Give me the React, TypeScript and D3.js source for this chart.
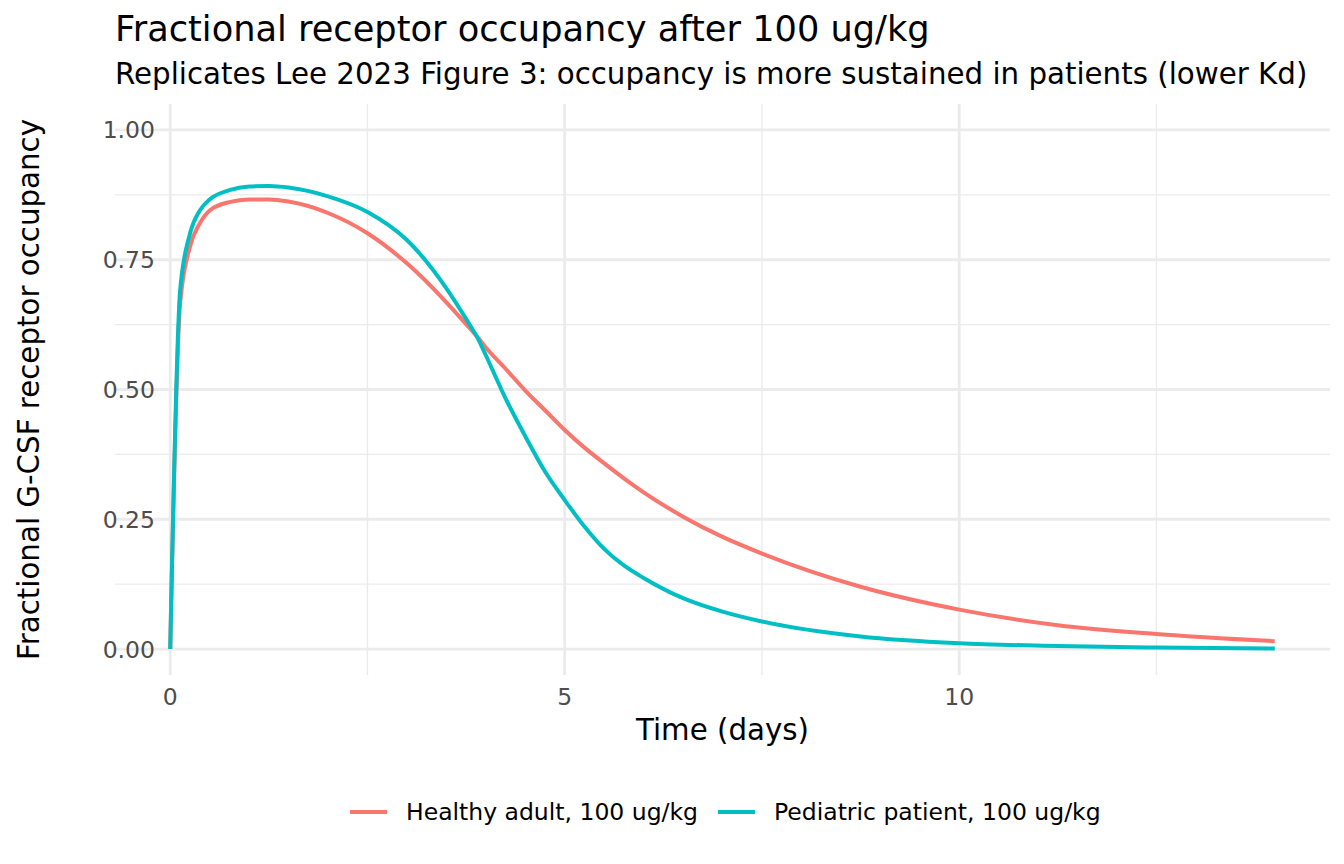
import * as d3 from "d3"

// time points (days) and occupancy
const times = [0, 0.125, 0.25, 0.375, 0.5, 0.75, 1, 1.25, 1.5, 2, 2.5, 3, 3.5, 3.75, 3.9, 4, 4.25, 4.5, 4.75, 5, 5.25, 5.5, 5.75, 6, 6.5, 7, 7.5, 8.75, 10, 11.25, 12.5, 14]
const healthy = [0, 0.665, 0.775, 0.82, 0.845, 0.861, 0.866, 0.866, 0.862, 0.84, 0.801, 0.743, 0.668, 0.626, 0.6, 0.581, 0.54, 0.498, 0.46, 0.422, 0.388, 0.358, 0.329, 0.302, 0.255, 0.216, 0.184, 0.12, 0.076, 0.046, 0.029, 0.015]
const pediatric = [0, 0.69, 0.8, 0.845, 0.866, 0.884, 0.891, 0.892, 0.889, 0.872, 0.842, 0.788, 0.695, 0.636, 0.598, 0.566, 0.483, 0.41, 0.342, 0.287, 0.236, 0.193, 0.161, 0.137, 0.098, 0.072, 0.053, 0.024, 0.011, 0.006, 0.003, 0.001]

const seriesNames = ["Healthy adult, 100 ug/kg", "Pediatric patient, 100 ug/kg"]
const seriesColors = ["#F8766D", "#00BFC4"]

const xMajor = [0, 5, 10]
const xMinor = [2.5, 7.5, 12.5]
const yMajor = [0, 0.25, 0.5, 0.75, 1]
const yMinor = [0.125, 0.375, 0.625, 0.875]

const W = 1344
const H = 864
const font = "DejaVu Sans"

const App = () => {
  const x = d3.scaleLinear().domain([-0.7, 14.7]).range([115, 1330])
  const y = d3.scaleLinear().domain([-0.05, 1.05]).range([675, 104])

  const line = d3
    .line<[number, number]>()
    .x((d) => x(d[0]))
    .y((d) => y(d[1]))
    .curve(d3.curveMonotoneX)

  const series = [healthy, pediatric].map((vals) => times.map((t, i) => [t, vals[i]] as [number, number]))

  const [x0, x1] = x.range()
  const [y0, y1] = y.range()

  return (
    <div style={{ position: "fixed", top: 0, left: 0 }}>
      <svg width={W} height={H} style={{ display: "block", background: "#fff" }} fontFamily={font}>
        {/* grid */}
        <g>
          {yMinor.map((v) => (
            <line key={"ym" + v} x1={x0} x2={x1} y1={y(v)} y2={y(v)} stroke="#EBEBEB" strokeWidth={1.4} />
          ))}
          {xMinor.map((v) => (
            <line key={"xm" + v} x1={x(v)} x2={x(v)} y1={y0} y2={y1} stroke="#EBEBEB" strokeWidth={1.4} />
          ))}
          {yMajor.map((v) => (
            <line key={"yM" + v} x1={x0} x2={x1} y1={y(v)} y2={y(v)} stroke="#EBEBEB" strokeWidth={2.8} />
          ))}
          {xMajor.map((v) => (
            <line key={"xM" + v} x1={x(v)} x2={x(v)} y1={y0} y2={y1} stroke="#EBEBEB" strokeWidth={2.8} />
          ))}
        </g>

        {/* lines */}
        {series.map((s, i) => (
          <path key={i} d={line(s) ?? ""} fill="none" stroke={seriesColors[i]} strokeWidth={4} strokeLinejoin="round" />
        ))}

        {/* axis text */}
        {yMajor.map((v) => (
          <text key={"yt" + v} x={155} y={y(v)} dy="0.36em" textAnchor="end" fontSize={23.5} fill="#4D4D4D">
            {d3.format(".2f")(v)}
          </text>
        ))}
        {xMajor.map((v) => (
          <text key={"xt" + v} x={x(v)} y={705} textAnchor="middle" fontSize={23.5} fill="#4D4D4D">
            {v}
          </text>
        ))}

        {/* axis titles */}
        <text x={(x0 + x1) / 2} y={740} textAnchor="middle" fontSize={29.3} fill="#000">
          Time (days)
        </text>
        <text
          transform={`translate(39,${(y0 + y1) / 2}) rotate(-90)`}
          textAnchor="middle"
          fontSize={29.3}
          fill="#000"
        >
          Fractional G-CSF receptor occupancy
        </text>

        {/* titles */}
        <text x={115} y={41} fontSize={35.2} fill="#000">
          Fractional receptor occupancy after 100 ug/kg
        </text>
        <text x={115} y={84} fontSize={29.3} fill="#000">
          Replicates Lee 2023 Figure 3: occupancy is more sustained in patients (lower Kd)
        </text>

        {/* legend */}
        {seriesNames.map((name, i) => {
          const lx = i === 0 ? 350 : 718
          return (
            <g key={name}>
              <line x1={lx} x2={lx + 37} y1={812} y2={812} stroke={seriesColors[i]} strokeWidth={4} />
              <text x={lx + 56} y={812} dy="0.36em" fontSize={23.5} fill="#000">
                {name}
              </text>
            </g>
          )
        })}
      </svg>
    </div>
  )
}

export default App
